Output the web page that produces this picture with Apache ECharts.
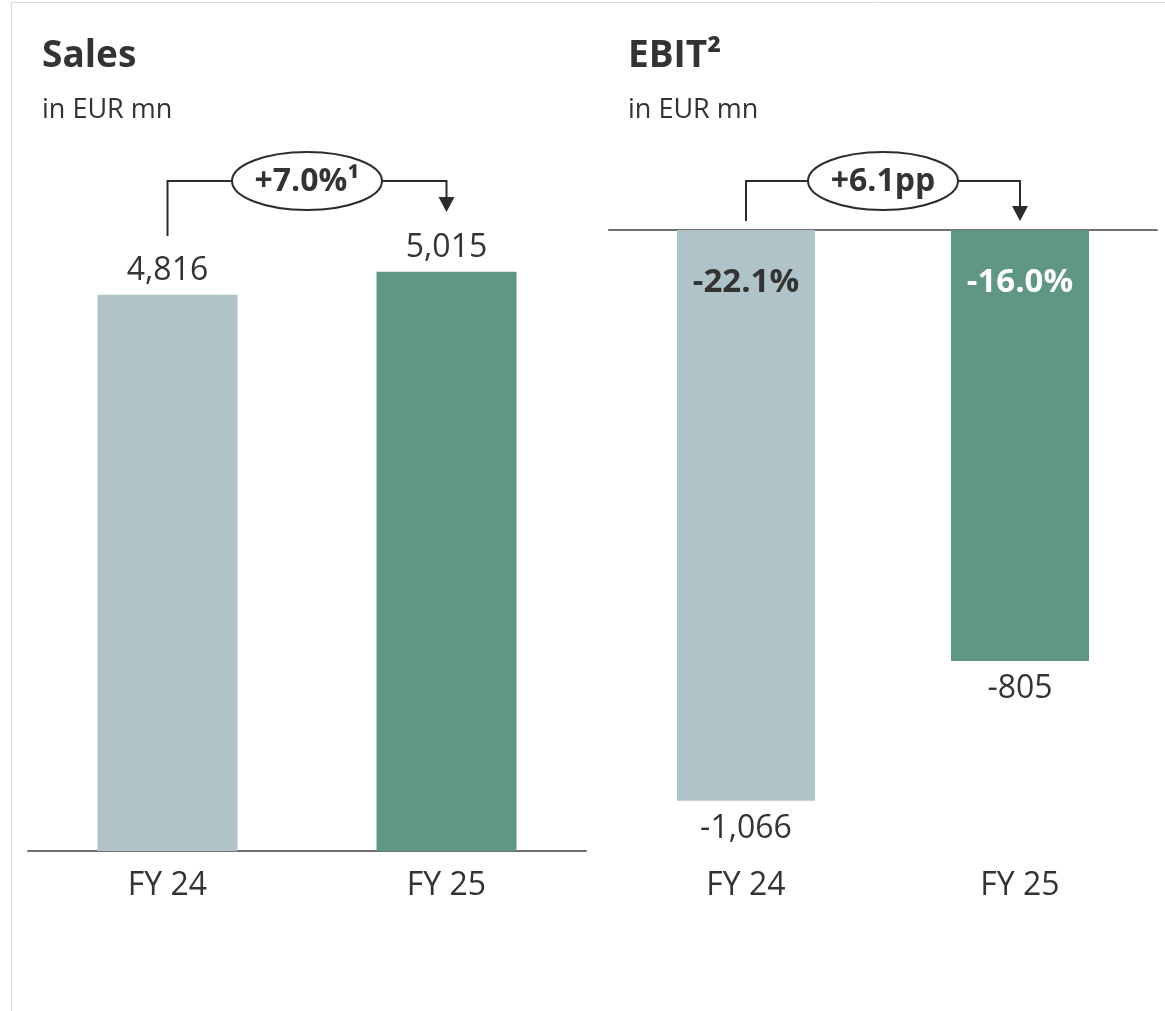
<!DOCTYPE html>
<html>
<head>
<meta charset="utf-8">
<script src="https://cdn.jsdelivr.net/npm/echarts@6/dist/echarts.min.js"></script>
<style>
html,body{margin:0;padding:0;background:#fff;}
#main{width:1165px;height:1011px;}
</style>
</head>
<body>
<div id="main"></div>
<script>
// ---- data ----
var categories = ['FY 24', 'FY 25'];
var salesValues = [4816, 5015];
var ebitValues = [-1066, -805];
var ebitMargins = ['-22.1%', '-16.0%'];
var salesChange = '+7.0%\u00b9';
var ebitChange = '+6.1pp';
var titles = ['Sales', 'EBIT\u00b2'];
var subtitles = ['in EUR mn', 'in EUR mn'];

var FONT = '"Open Sans", "Noto Sans", sans-serif';
var TXT = '#333333';
var C_LIGHT = '#b0c3c9';
var C_GREEN = '#609684';

function fmt(v) {
  var s = Math.abs(v).toString().replace(/\B(?=(\d{3})+(?!\d))/g, ',');
  return (v < 0 ? '-' : '') + s;
}

var chart = echarts.init(document.getElementById('main'), null, {renderer: 'canvas'});

var option = {
  backgroundColor: '#ffffff',
  animation: false,
  grid: [
    {left: 28, right: 579, top: 158, bottom: 160},
    {left: 609, right: 8, top: 230, bottom: 192}
  ],
  xAxis: [
    {
      gridIndex: 0, type: 'category', data: categories,
      axisLine: {show: true, lineStyle: {color: '#707070', width: 2}},
      axisTick: {show: false},
      axisLabel: {fontFamily: FONT, fontSize: 32, lineHeight: 32, color: TXT, margin: 19}
    },
    {
      gridIndex: 1, type: 'category', data: categories,
      axisLine: {show: true, onZero: true, lineStyle: {color: '#707070', width: 2}},
      axisTick: {show: false},
      axisLabel: {show: false}
    },
    {
      gridIndex: 1, type: 'category', data: categories, position: 'bottom',
      axisLine: {show: false, onZero: false},
      axisTick: {show: false},
      axisLabel: {fontFamily: FONT, fontSize: 32, lineHeight: 32, color: TXT, margin: 51}
    }
  ],
  yAxis: [
    {gridIndex: 0, type: 'value', min: 0, max: 6000, show: false, splitLine: {show: false}},
    {gridIndex: 1, type: 'value', min: -1100, max: 0, show: false, splitLine: {show: false}}
  ],
  series: [
    {
      type: 'bar', xAxisIndex: 0, yAxisIndex: 0, barWidth: 140,
      data: salesValues.map(function (v, i) {
        return {value: v, itemStyle: {color: i === 0 ? C_LIGHT : C_GREEN}};
      }),
      label: {
        show: true, position: 'top', distance: 8,
        fontFamily: FONT, fontSize: 32, lineHeight: 32, color: TXT,
        formatter: function (p) { return fmt(p.value); }
      }
    },
    {
      type: 'bar', xAxisIndex: 1, yAxisIndex: 1, barWidth: 138, barGap: '-100%',
      data: ebitValues.map(function (v, i) {
        return {value: v, itemStyle: {color: i === 0 ? C_LIGHT : C_GREEN}};
      }),
      label: {
        show: true, position: 'bottom', distance: 12,
        fontFamily: FONT, fontSize: 32, lineHeight: 32, color: TXT,
        formatter: function (p) { return fmt(p.value); }
      }
    },
    {
      type: 'bar', xAxisIndex: 1, yAxisIndex: 1, barWidth: 138, barGap: '-100%',
      silent: true,
      data: ebitValues.map(function (v, i) {
        return {
          value: v,
          itemStyle: {color: 'rgba(0,0,0,0)'},
          label: {color: i === 0 ? TXT : '#ffffff'}
        };
      }),
      label: {
        show: true, position: 'insideTop', distance: 37,
        fontFamily: FONT, fontSize: 33, lineHeight: 32, fontWeight: 'bold',
        formatter: function (p) { return ebitMargins[p.dataIndex]; }
      }
    }
  ]
};
chart.setOption(option);

// ---- annotations (positions derived from axes) ----
var sx0 = chart.convertToPixel({xAxisIndex: 0}, categories[0]);
var sx1 = chart.convertToPixel({xAxisIndex: 0}, categories[1]);
var ex0 = chart.convertToPixel({xAxisIndex: 1}, categories[0]);
var ex1 = chart.convertToPixel({xAxisIndex: 1}, categories[1]);

var LINE_Y = 181, RX = 75, RY = 29;
var LS = {stroke: '#2b2b2b', lineWidth: 2, fill: null};

function bracket(x0, x1, yStart, arrowTip, label) {
  var cx = (x0 + x1) / 2;
  var headH = 15, headW = 8;
  return [
    {type: 'polyline', shape: {points: [[x0, yStart], [x0, LINE_Y], [cx - RX, LINE_Y]]}, style: LS, z: 10},
    {type: 'polyline', shape: {points: [[cx + RX, LINE_Y], [x1, LINE_Y], [x1, arrowTip - headH + 1]]}, style: LS, z: 10},
    {type: 'polygon', shape: {points: [[x1 - headW, arrowTip - headH], [x1 + headW, arrowTip - headH], [x1, arrowTip]]},
      style: {fill: '#2b2b2b'}, z: 10},
    {type: 'ellipse', shape: {cx: cx, cy: LINE_Y, rx: RX, ry: RY},
      style: {fill: '#ffffff', stroke: '#2b2b2b', lineWidth: 2}, z: 11},
    {type: 'text', x: cx, y: LINE_Y + 1, z: 12,
      style: {text: label, fill: TXT, font: 'bold 32px ' + FONT,
        align: 'center', verticalAlign: 'middle', textAlign: 'center', textVerticalAlign: 'middle'}}
  ];
}

function txt(x, y, s, font) {
  return {type: 'text', x: x, y: y, z: 12,
    style: {text: s, fill: TXT, font: font, align: 'left', verticalAlign: 'middle',
      textAlign: 'left', textVerticalAlign: 'middle'}};
}

var elements = [
  {type: 'line', shape: {x1: 11.5, y1: 2.5, x2: 1165, y2: 2.5}, style: {stroke: '#d9d9d9', lineWidth: 1}},
  {type: 'line', shape: {x1: 11.5, y1: 2.5, x2: 11.5, y2: 1011}, style: {stroke: '#d9d9d9', lineWidth: 1}},
  txt(42, 56, titles[0], 'bold 37px ' + FONT),
  txt(42, 110, subtitles[0], '27px ' + FONT),
  txt(628, 56, titles[1], 'bold 37px ' + FONT),
  txt(628, 110, subtitles[1], '27px ' + FONT)
];
elements = elements.concat(bracket(sx0, sx1, 236, 212, salesChange));
elements = elements.concat(bracket(ex0, ex1, 221, 221, ebitChange));

chart.setOption({graphic: {elements: elements}});
</script>
</body>
</html>
